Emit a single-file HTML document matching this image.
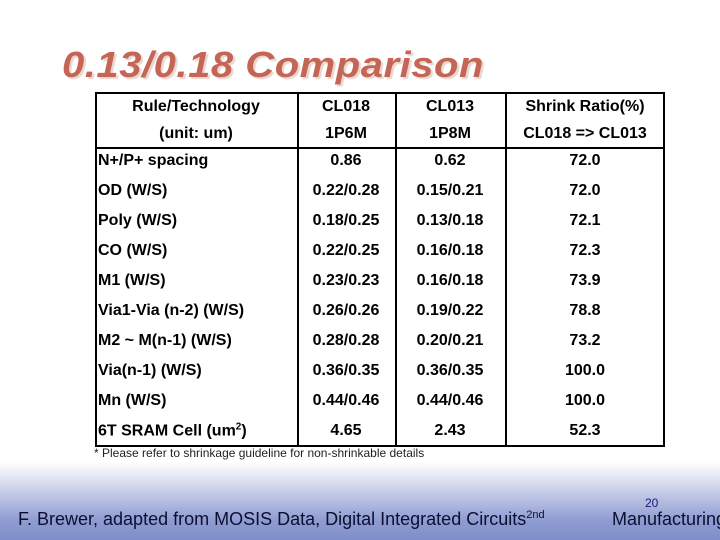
<!DOCTYPE html>
<html><head><meta charset="utf-8"><style>
body{margin:0;width:720px;height:540px;position:relative;overflow:hidden;background:#fff;font-family:"Liberation Sans",Arial,sans-serif}
#bg{position:absolute;left:0;top:462px;width:720px;height:78px;background:linear-gradient(#ffffff,#8f9cd2 75%,#7e8ecb)}
#title{position:absolute;left:62px;top:44px;font-size:36px;font-weight:bold;font-style:italic;color:#c46555;text-shadow:2px 2px 1px #e8d6cf;letter-spacing:0.5px;white-space:nowrap;transform:scaleX(1.11);transform-origin:left top}
#tbl{position:absolute;left:95px;top:92px;width:566px;height:351px;border:2px solid #000}
.v{position:absolute;top:0;width:2px;height:351px;background:#000}
.h{position:absolute;left:0;width:566px;height:2px;background:#000;top:53px}
.c{position:absolute;font-size:16px;font-weight:bold;color:#000;white-space:nowrap;transform:translate(-50%,-50%)}
.l{position:absolute;font-size:16px;font-weight:bold;color:#000;white-space:nowrap;transform:translateY(-50%);left:3px}
#note{position:absolute;left:94px;top:446px;font-size:12px;color:#222;white-space:nowrap}
#foot{position:absolute;left:18px;top:509px;font-size:18px;color:#0c1030;white-space:nowrap}
#foot sup{font-size:11px}
#pg{position:absolute;left:645px;top:496px;font-size:12px;color:#1a1a7a}
#mf{position:absolute;left:612px;top:509px;font-size:18px;color:#0c1030;white-space:nowrap}
</style></head><body>
<div id="bg"></div>
<div id="title">0.13/0.18 Comparison</div>
<div id="tbl">
<div class="v" style="left:200px"></div>
<div class="v" style="left:298px"></div>
<div class="v" style="left:408px"></div>
<div class="h"></div>
</div>
<div id="cells"></div>
<div id="note">* Please refer to shrinkage guideline for non-shrinkable details</div>
<div id="foot">F. Brewer, adapted from MOSIS Data, Digital Integrated Circuits<sup>2nd</sup></div>
<div id="pg">20</div>
<div id="mf">Manufacturing</div>
<script>
const rows=[
["N+/P+ spacing","0.86","0.62","72.0"],
["OD (W/S)","0.22/0.28","0.15/0.21","72.0"],
["Poly (W/S)","0.18/0.25","0.13/0.18","72.1"],
["CO (W/S)","0.22/0.25","0.16/0.18","72.3"],
["M1 (W/S)","0.23/0.23","0.16/0.18","73.9"],
["Via1-Via (n-2) (W/S)","0.26/0.26","0.19/0.22","78.8"],
["M2 ~ M(n-1) (W/S)","0.28/0.28","0.20/0.21","73.2"],
["Via(n-1) (W/S)","0.36/0.35","0.36/0.35","100.0"],
["Mn (W/S)","0.44/0.46","0.44/0.46","100.0"],
["6T SRAM Cell (um<sup style='font-size:10px'>2</sup>)","4.65","2.43","52.3"]];
const head=[["Rule/Technology","CL018","CL013","Shrink Ratio(%)"],["(unit: um)","1P6M","1P8M","CL018 => CL013"]];
const cx=[196,346,450,585];
const box=document.getElementById('cells');
function add(txt,x,y,center){
 const d=document.createElement('div');
 d.className=center?'c':'l';
 
 
 d.style.top=y+'px';
 if(center)d.style.left=x+'px';else d.style.left='98px';
 d.innerHTML=txt;box.appendChild(d);
}
head.forEach((r,i)=>r.forEach((t,j)=>add(t,cx[j],107+i*27,true)));
rows.forEach((r,i)=>r.forEach((t,j)=>add(t,cx[j],161+i*30,j>0)));
</script>
</body></html>
